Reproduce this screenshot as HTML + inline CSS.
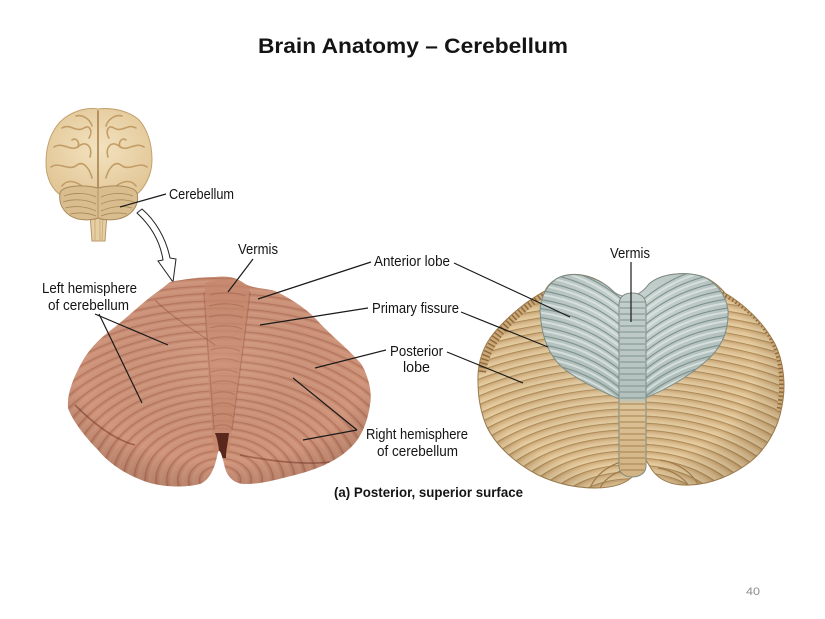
<!DOCTYPE html>
<html><head><meta charset="utf-8"><style>
html,body{margin:0;padding:0;background:#fff;width:825px;height:619px;overflow:hidden;}
svg{display:block;}
text{font-family:"Liberation Sans",Arial,sans-serif;fill:#141414;}
</style></head><body>
<svg width="825" height="619" viewBox="0 0 825 619" xmlns="http://www.w3.org/2000/svg">
<defs>
 <clipPath id="cPhoto"><path d="M170,282 C185,279 200,277 215,277 C225,276 235,276 245,284 C255,289 265,288 275,291 C290,298 305,308 315,318 C330,335 350,350 362,365 C370,380 372,395 370,405 C367,425 360,440 348,450 C335,462 315,470 295,475 C275,480 262,484 245,484 C235,484 228,478 225,468 C222,455 220,448 218,452 C215,468 210,480 200,484 C185,488 165,487 150,483 C130,477 110,465 98,450 C85,437 72,420 68,408 C67,395 72,380 82,362 C90,348 100,338 115,327 C130,315 145,300 160,290 Z"/></clipPath>
 <clipPath id="cTan"><path d="M478,382 C477,362 484,345 494,333 C508,316 528,300 545,291 C548,284 556,277 567,275 C586,272 603,281 614,292 C619,296 624,297 630,296 C637,296 643,292 649,284 C660,274 683,271 701,276 C711,279 719,286 725,293 C744,304 764,323 775,344 C784,362 786,386 782,406 C778,430 765,450 750,462 C733,475 712,484 690,485 C672,486 660,481 652,470 C649,465 647,461 645,460 C642,463 639,469 635,474 C627,484 612,488 595,488 C575,488 555,483 538,475 C515,463 495,445 486,425 C480,410 478,395 478,382 Z"/></clipPath>
 <clipPath id="cBlue"><path d="M540,310 C541,296 548,282 560,277 C580,270 602,280 614,292 C619,296 624,297 630,296 C637,296 643,292 649,284 C660,274 683,271 701,276 C716,281 726,295 728,310 C729,330 722,348 705,362 C688,377 665,390 645,398 C638,401 624,401 617,398 C598,390 578,380 563,368 C549,356 541,336 540,310 Z"/></clipPath>
 <radialGradient id="rPhoto" gradientUnits="userSpaceOnUse" cx="220" cy="480" r="7.5" spreadMethod="repeat" gradientTransform="matrix(1.45 0 0 1 -99 0)">
   <stop offset="0" stop-color="#CD9178"/>
   <stop offset="0.5" stop-color="#D39A80"/>
   <stop offset="0.8" stop-color="#C4856B"/>
   <stop offset="0.9" stop-color="#B0705A"/>
   <stop offset="1" stop-color="#CD9178"/>
 </radialGradient>
 <radialGradient id="shPhoto" cx="0.5" cy="0.4" r="0.65">
   <stop offset="0" stop-color="#FFE8DC" stop-opacity="0.1"/>
   <stop offset="0.7" stop-color="#000" stop-opacity="0"/>
   <stop offset="1" stop-color="#4A1E12" stop-opacity="0.22"/>
 </radialGradient>
 <radialGradient id="rTan" gradientUnits="userSpaceOnUse" cx="632" cy="520" r="7" spreadMethod="repeat" gradientTransform="matrix(1.7 0 0 1 -442.4 0)">
   <stop offset="0" stop-color="#E8D0A4"/>
   <stop offset="0.45" stop-color="#DEC092"/>
   <stop offset="0.78" stop-color="#CDAA78"/>
   <stop offset="0.9" stop-color="#A5824F"/>
   <stop offset="1" stop-color="#E8D0A4"/>
 </radialGradient>
 <radialGradient id="shTan" cx="0.45" cy="0.45" r="0.62">
   <stop offset="0" stop-color="#fff" stop-opacity="0.1"/>
   <stop offset="0.7" stop-color="#000" stop-opacity="0"/>
   <stop offset="1" stop-color="#5A3A14" stop-opacity="0.2"/>
 </radialGradient>
 <radialGradient id="gBlue" cx="0.5" cy="0.3" r="0.7">
   <stop offset="0" stop-color="#CAD5D2"/>
   <stop offset="1" stop-color="#A9B8B5"/>
 </radialGradient>
 <linearGradient id="gVerm" x1="0" y1="293" x2="0" y2="478" gradientUnits="userSpaceOnUse">
   <stop offset="0" stop-color="#C3CFCC"/>
   <stop offset="0.57" stop-color="#B3C1BE"/>
   <stop offset="0.6" stop-color="#DDC398"/>
   <stop offset="1" stop-color="#D2B383"/>
 </linearGradient>
 <radialGradient id="gBrain" cx="0.5" cy="0.45" r="0.6">
   <stop offset="0" stop-color="#F3E2BF"/>
   <stop offset="1" stop-color="#E2C797"/>
 </radialGradient>
</defs>

<text x="258" y="53" font-size="21" font-weight="bold" textLength="310" lengthAdjust="spacingAndGlyphs">Brain Anatomy – Cerebellum</text>

<g>
 <path d="M90,214 L107,214 L105,241 L92,241 Z" fill="#E6CFA3" stroke="#B89469" stroke-width="1"/>
 <path d="M95,216 L95,240 M100,216 L100,240 M103,216 L102,240" stroke="#C6A679" stroke-width="0.8"/>
 <path d="M98,109 C85,107 70,112 60,122 C50,133 46,148 46,163 C46,178 52,190 62,196 L135,196 C145,188 152,175 152,160 C152,143 147,128 138,119 C128,111 112,107 98,109 Z" fill="url(#gBrain)" stroke="#C4A06C" stroke-width="1"/>
 <g fill="none" stroke="#C39C66" stroke-width="1.6" stroke-linecap="round">
  <path d="M98,111 L98,193" stroke="#A8824F"/>
  <path d="M62,128 C70,123 76,133 84,128 C90,124 93,132 89,138"/>
  <path d="M54,147 C63,141 71,153 79,146 C87,140 93,148 90,157"/>
  <path d="M51,167 C59,161 69,172 77,165 C84,160 90,170 92,178"/>
  <path d="M62,186 C68,178 78,182 84,188"/>
  <path d="M76,116 C82,114 90,119 92,126"/>
  <path d="M72,140 C76,137 80,142 78,147"/>
  <path d="M136,128 C128,123 122,133 114,128 C108,124 105,132 109,138"/>
  <path d="M144,147 C135,141 127,153 119,146 C111,140 105,148 108,157"/>
  <path d="M147,167 C139,161 129,172 121,165 C114,160 108,170 106,178"/>
  <path d="M136,186 C130,178 120,182 114,188"/>
  <path d="M122,116 C116,114 108,119 106,126"/>
  <path d="M126,140 C122,137 118,142 120,147"/>
 </g>
 <path d="M60,193 C62,186 80,184 98,188 C116,184 134,186 137,193 C140,205 132,216 118,219 C108,221 100,219 98,218 C96,219 88,221 78,219 C66,216 58,206 60,193 Z" fill="#D9BD8E" stroke="#A8885A" stroke-width="1"/>
 <g fill="none" stroke="#A98957" stroke-width="0.8">
  <path d="M64,196 C75,192 88,193 96,197"/><path d="M63,202 C75,198 88,200 96,204"/><path d="M65,208 C76,205 88,207 96,211"/><path d="M70,214 C80,212 89,213 96,216"/>
  <path d="M133,196 C122,192 110,193 101,197"/><path d="M134,202 C122,198 110,200 101,204"/><path d="M132,208 C121,205 110,207 101,211"/><path d="M127,214 C117,212 108,213 101,216"/>
  <path d="M98,188 L98,218"/>
 </g>
</g>

<path d="M137,213 C150,225 160,240 163,260 L158,261 L173,282 L176,259 L170,258 C166,238 155,220 142,209 Z" fill="#fff" stroke="#222" stroke-width="1"/>

<g clip-path="url(#cPhoto)">
 <rect x="60" y="270" width="320" height="225" fill="url(#rPhoto)"/>
 <path d="M205,283 C215,279 240,279 250,286 C248,320 241,360 236,400 C233,420 231,440 229,452 L214,452 C212,432 211,410 209,390 C207,350 205,320 205,283 Z" fill="#C8886D" opacity="0.75"/>
 <g fill="none" stroke="#9A5842" stroke-width="1.1" opacity="0.45">
  <path d="M210,295 C220,292 235,292 245,296"/><path d="M209,306 C220,303 234,303 244,307"/><path d="M209,317 C220,314 234,314 243,318"/><path d="M210,328 C220,325 233,325 242,329"/><path d="M210,339 C220,336 233,336 241,340"/><path d="M210,350 C220,347 232,347 240,351"/><path d="M211,361 C220,358 231,358 239,362"/><path d="M211,372 C220,369 230,369 238,373"/><path d="M212,383 C220,380 230,380 237,384"/><path d="M212,394 C220,391 229,391 235,395"/><path d="M213,405 C220,402 228,402 234,406"/><path d="M213,416 C220,413 228,413 233,417"/><path d="M214,427 C220,424 227,424 232,428"/>
 </g>
 <path d="M204,292 C206,330 210,370 214,430" fill="none" stroke="#8A4633" stroke-width="1.3" opacity="0.35"/>
 <path d="M250,292 C246,330 240,370 232,430" fill="none" stroke="#8A4633" stroke-width="1.3" opacity="0.35"/>
 <path d="M215,433 C218,440 219,450 220,458 L226,458 C226,450 228,442 229,433 Z" fill="#5A271C"/>
 <path d="M75,405 C95,425 115,440 135,445" fill="none" stroke="#7A3828" stroke-width="1.6" opacity="0.55"/>
 <path d="M240,455 C275,462 305,465 330,462" fill="none" stroke="#7A3828" stroke-width="1.6" opacity="0.55"/>
 <path d="M155,300 C175,320 195,330 215,345" fill="none" stroke="#8A4633" stroke-width="1.3" opacity="0.4"/>
 <rect x="60" y="270" width="320" height="225" fill="url(#shPhoto)"/>
</g>

<g>
 <g clip-path="url(#cTan)">
  <rect x="470" y="260" width="320" height="235" fill="url(#rTan)"/>
  <rect x="470" y="260" width="320" height="235" fill="url(#shTan)"/>
  <g fill="none" stroke="#9E7B4A" stroke-width="1.2">
   <path d="M600,488 C605,478 618,470 632,468"/><path d="M590,488 C597,472 614,462 630,460"/>
   <path d="M690,488 C685,478 672,470 658,468"/><path d="M700,488 C693,472 676,462 660,460"/>
  </g>
  <path d="M482,372 C486,345 505,320 545,292" fill="none" stroke="#CDA874" stroke-width="8"/>
  <path d="M482,372 C486,345 505,320 545,292" fill="none" stroke="#8A6840" stroke-width="8" stroke-dasharray="1.4 2.6"/>
  <path d="M723,292 C748,305 770,325 778,350 C785,370 784,395 780,412" fill="none" stroke="#CDA874" stroke-width="8"/>
  <path d="M723,292 C748,305 770,325 778,350 C785,370 784,395 780,412" fill="none" stroke="#8A6840" stroke-width="8" stroke-dasharray="1.4 2.6"/>
 </g>
 <path d="M478,382 C477,362 484,345 494,333 C508,316 528,300 545,291 C548,284 556,277 567,275 C586,272 603,281 614,292 C619,296 624,297 630,296 C637,296 643,292 649,284 C660,274 683,271 701,276 C711,279 719,286 725,293 C744,304 764,323 775,344 C784,362 786,386 782,406 C778,430 765,450 750,462 C733,475 712,484 690,485 C672,486 660,481 652,470 C649,465 647,461 645,460 C642,463 639,469 635,474 C627,484 612,488 595,488 C575,488 555,483 538,475 C515,463 495,445 486,425 C480,410 478,395 478,382 Z" fill="none" stroke="#9A7A4C" stroke-width="1"/>
 <g clip-path="url(#cBlue)">
  <rect x="535" y="268" width="200" height="140" fill="url(#gBlue)"/>
  <g fill="none" stroke="#DDE5E2" stroke-width="2" opacity="0.8">
   <path d="M528,284 Q585,289 625,324"/><path d="M528,293 Q585,298 625,333"/><path d="M528,302 Q585,307 625,342"/><path d="M528,311 Q585,316 625,351"/><path d="M528,320 Q585,325 625,360"/><path d="M528,329 Q585,334 625,369"/><path d="M528,338 Q585,343 625,378"/><path d="M528,347 Q585,352 625,387"/><path d="M528,356 Q585,361 625,396"/><path d="M528,365 Q585,370 625,405"/><path d="M528,275 Q585,280 625,315"/><path d="M528,266 Q585,271 625,306"/>
   <path d="M737,284 Q680,289 640,324"/><path d="M737,293 Q680,298 640,333"/><path d="M737,302 Q680,307 640,342"/><path d="M737,311 Q680,316 640,351"/><path d="M737,320 Q680,325 640,360"/><path d="M737,329 Q680,334 640,369"/><path d="M737,338 Q680,343 640,378"/><path d="M737,347 Q680,352 640,387"/><path d="M737,356 Q680,361 640,396"/><path d="M737,365 Q680,370 640,405"/><path d="M737,275 Q680,280 640,315"/><path d="M737,266 Q680,271 640,306"/>
  </g>
  <g fill="none" stroke="#7E918D" stroke-width="1.1">
   <path d="M528,280 Q585,285 625,320"/><path d="M528,289 Q585,294 625,329"/><path d="M528,298 Q585,303 625,338"/><path d="M528,307 Q585,312 625,347"/><path d="M528,316 Q585,321 625,356"/><path d="M528,325 Q585,330 625,365"/><path d="M528,334 Q585,339 625,374"/><path d="M528,343 Q585,348 625,383"/><path d="M528,352 Q585,357 625,392"/><path d="M528,361 Q585,366 625,401"/><path d="M528,271 Q585,276 625,311"/><path d="M528,262 Q585,267 625,302"/>
   <path d="M737,280 Q680,285 640,320"/><path d="M737,289 Q680,294 640,329"/><path d="M737,298 Q680,303 640,338"/><path d="M737,307 Q680,312 640,347"/><path d="M737,316 Q680,321 640,356"/><path d="M737,325 Q680,330 640,365"/><path d="M737,334 Q680,339 640,374"/><path d="M737,343 Q680,348 640,383"/><path d="M737,352 Q680,357 640,392"/><path d="M737,361 Q680,366 640,401"/><path d="M737,271 Q680,276 640,311"/><path d="M737,262 Q680,267 640,302"/>
  </g>
 </g>
 <path d="M540,310 C541,296 548,282 560,277 C580,270 602,280 614,292 C619,296 624,297 630,296 C637,296 643,292 649,284 C660,274 683,271 701,276 C716,281 726,295 728,310 C729,330 722,348 705,362 C688,377 665,390 645,398 C638,401 624,401 617,398 C598,390 578,380 563,368 C549,356 541,336 540,310 Z" fill="none" stroke="#7C8C88" stroke-width="1"/>
 <path d="M619,305 C619,297 624,293 632,293 C640,293 646,297 646,305 L646,466 C646,473 640,477 632,477 C625,477 619,473 619,466 Z" fill="url(#gVerm)" stroke="#7F8A80" stroke-width="1"/>
 <g stroke="#7E918D" stroke-width="1">
  <path d="M620,302 H645 M620,308 H645 M620,314 H645 M620,320 H645 M620,326 H645 M620,332 H645 M620,338 H645 M620,344 H645 M620,350 H645 M620,356 H645 M620,362 H645 M620,368 H645 M620,374 H645 M620,380 H645 M620,386 H645 M620,392 H645 M620,398 H645"/>
 </g>
 <g stroke="#A5814F" stroke-width="1">
  <path d="M620,404 H645 M620,410 H645 M620,416 H645 M620,422 H645 M620,428 H645 M620,434 H645 M620,440 H645 M620,446 H645 M620,452 H645 M620,458 H645 M620,464 H645 M621,470 H644"/>
 </g>
</g>

<g stroke="#1a1a1a" stroke-width="1.2" fill="none">
 <path d="M166,194 L120,207"/>
 <path d="M253,259 L228,292"/>
 <path d="M371,262 L258,299"/>
 <path d="M454,263 L570,317"/>
 <path d="M368,308 L260,325"/>
 <path d="M461,312 L548,347"/>
 <path d="M386,350 L315,368"/>
 <path d="M447,352 L523,383"/>
 <path d="M357,430 L293,378"/>
 <path d="M357,430 L303,440"/>
 <path d="M95,314 L168,345"/>
 <path d="M99,314 L142,403"/>
 <path d="M631,262 L631,322"/>
</g>

<g font-size="15">
 <text x="169" y="199" textLength="65" lengthAdjust="spacingAndGlyphs">Cerebellum</text>
 <text x="238" y="254" textLength="40" lengthAdjust="spacingAndGlyphs">Vermis</text>
 <text x="42" y="293" textLength="95" lengthAdjust="spacingAndGlyphs">Left hemisphere</text>
 <text x="48" y="310" textLength="81" lengthAdjust="spacingAndGlyphs">of cerebellum</text>
 <text x="374" y="266" textLength="76" lengthAdjust="spacingAndGlyphs">Anterior lobe</text>
 <text x="372" y="313" textLength="87" lengthAdjust="spacingAndGlyphs">Primary fissure</text>
 <text x="390" y="356" textLength="53" lengthAdjust="spacingAndGlyphs">Posterior</text>
 <text x="403" y="372" textLength="27" lengthAdjust="spacingAndGlyphs">lobe</text>
 <text x="366" y="439" textLength="102" lengthAdjust="spacingAndGlyphs">Right hemisphere</text>
 <text x="377" y="456" textLength="81" lengthAdjust="spacingAndGlyphs">of cerebellum</text>
 <text x="610" y="258" textLength="40" lengthAdjust="spacingAndGlyphs">Vermis</text>
</g>
<text x="334" y="497" font-size="14" font-weight="bold" textLength="189" lengthAdjust="spacingAndGlyphs">(a) Posterior, superior surface</text>
<text x="746" y="595" font-size="11" style="fill:#8c8c8c" textLength="14" lengthAdjust="spacingAndGlyphs">40</text>
</svg>
</body></html>
